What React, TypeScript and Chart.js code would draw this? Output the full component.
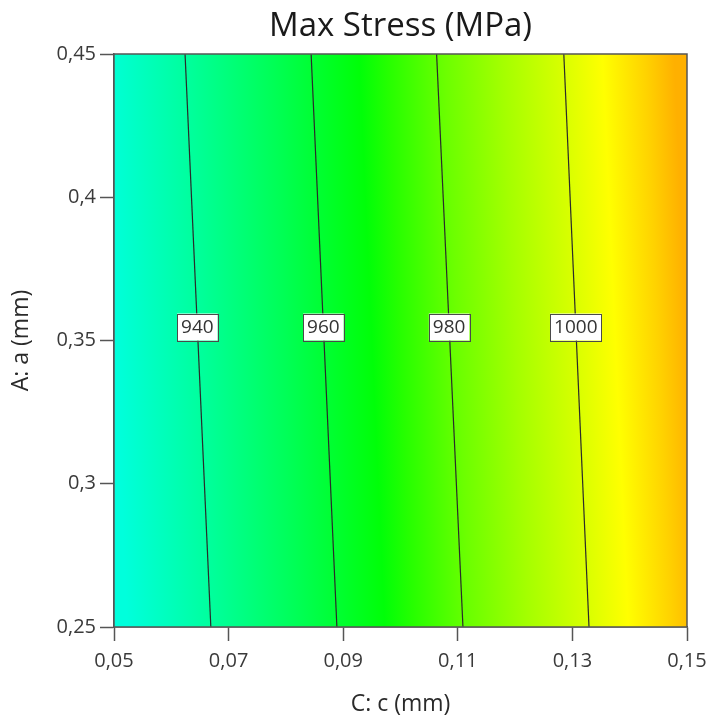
import { useEffect, useRef } from "react";
import { Chart, registerables } from "chart.js";

Chart.register(...registerables);

// Axis ticks
const xTicks = [0.05, 0.07, 0.09, 0.11, 0.13, 0.15];
const yTicks = [0.25, 0.3, 0.35, 0.4, 0.45];

// Contour levels of max stress (MPa) and where each crosses the top (a = 0.45) and bottom (a = 0.25) edges
const contourLevels = [940, 960, 980, 1000];
const contourCTop = [0.0624, 0.0844, 0.1063, 0.1285];
const contourCBottom = [0.0669, 0.0889, 0.1109, 0.1329];

// Colour ramp of the response surface, sampled along a = 0.35
const fieldC = [0.05, 0.065, 0.08, 0.095, 0.1, 0.11, 0.12, 0.13, 0.1375, 0.145, 0.15];
const fieldColors = [
  "#00ffdc", "#00ff9c", "#00ff55", "#00ff08", "#26ff00", "#6cff00",
  "#a4ff00", "#d6ff00", "#ffff00", "#ffd200", "#ffb000",
];

const TITLE = "Max Stress (MPa)";
const FONT = "'Open Sans', 'DejaVu Sans', sans-serif";
const A_MIN = 0.25;
const A_MAX = 0.45;
const FIELD_REF_A = 0.35;
const LABEL_A = 0.3547;

const fmt = (v: number) => String(v).replace(".", ",");

const surfacePlugin = {
  id: "surface",
  beforeDatasetsDraw(chart: any) {
    const { ctx, chartArea } = chart;
    const { left, right, top, bottom } = chartArea;
    const xs = chart.scales.x;
    const ys = chart.scales.y;
    // mean horizontal drift of the iso-lines per pixel of height
    let shift = 0;
    contourLevels.forEach((_, i) => {
      shift += xs.getPixelForValue(contourCBottom[i]) - xs.getPixelForValue(contourCTop[i]);
    });
    shift /= contourLevels.length;
    const h = ys.getPixelForValue(A_MIN) - ys.getPixelForValue(A_MAX);
    const t = shift / h;
    const ym = ys.getPixelForValue(FIELD_REF_A);
    const x0 = xs.getPixelForValue(fieldC[0]);
    const x1 = xs.getPixelForValue(fieldC[fieldC.length - 1]);
    const L = x1 - x0;
    const k = 1 / (1 + t * t);
    const g = ctx.createLinearGradient(x0, ym, x0 + L * k, ym - L * k * t);
    fieldC.forEach((c, i) => {
      const f = (xs.getPixelForValue(c) - x0) / L;
      g.addColorStop(Math.min(1, Math.max(0, f)), fieldColors[i]);
    });
    ctx.save();
    ctx.fillStyle = g;
    ctx.fillRect(left, top, right - left, bottom - top);
    ctx.restore();
  },
  afterDatasetsDraw(chart: any) {
    const { ctx, chartArea } = chart;
    const xs = chart.scales.x;
    const ys = chart.scales.y;
    const yTop = ys.getPixelForValue(A_MAX);
    const yBot = ys.getPixelForValue(A_MIN);
    const yl = ys.getPixelForValue(LABEL_A);
    ctx.save();
    ctx.font = `19px ${FONT}`;
    ctx.textAlign = "center";
    ctx.textBaseline = "middle";
    contourLevels.forEach((lvl, i) => {
      const xt = xs.getPixelForValue(contourCTop[i]);
      const xb = xs.getPixelForValue(contourCBottom[i]);
      const xl = xt + ((xb - xt) * (yl - yTop)) / (yBot - yTop);
      const txt = String(lvl);
      const w = ctx.measureText(txt).width + 8;
      const hh = 27;
      ctx.fillStyle = "#ffffff";
      ctx.fillRect(xl - w / 2, yl - hh / 2, w, hh);
      ctx.strokeStyle = "#4a4a4a";
      ctx.lineWidth = 1;
      ctx.strokeRect(Math.round(xl - w / 2) + 0.5, Math.round(yl - hh / 2) + 0.5, Math.round(w), hh);
      ctx.fillStyle = "#333333";
      ctx.fillText(txt, xl, yl + 1);
    });
    // frame around the plot
    ctx.strokeStyle = "#555555";
    ctx.lineWidth = 1.5;
    ctx.strokeRect(chartArea.left, chartArea.top, chartArea.right - chartArea.left, chartArea.bottom - chartArea.top);
    // chart title, centred over the plot
    ctx.font = `33px ${FONT}`;
    ctx.fillStyle = "#1a1a1a";
    ctx.textAlign = "center";
    ctx.textBaseline = "middle";
    ctx.fillText(TITLE, (chartArea.left + chartArea.right) / 2, 27);
    ctx.restore();
  },
};

export default function App() {
  const ref = useRef<HTMLCanvasElement | null>(null);

  useEffect(() => {
    if (!ref.current) return;
    const datasets = contourLevels.map((lvl, i) => ({
      label: String(lvl),
      data: [
        { x: contourCTop[i], y: A_MAX },
        { x: contourCBottom[i], y: A_MIN },
      ],
      showLine: true,
      borderColor: "#2a2a2a",
      borderWidth: 1.2,
      pointRadius: 0,
      fill: false,
    }));

    const chart = new Chart(ref.current, {
      type: "scatter",
      data: { datasets },
      plugins: [surfacePlugin],
      options: {
        animation: false,
        responsive: false,
        layout: { padding: { left: 0, right: 24, top: 54, bottom: 0 } },
        plugins: {
          legend: { display: false },
          tooltip: { enabled: false },
          title: { display: false },
        },
        scales: {
          x: {
            type: "linear",
            min: 0.05,
            max: 0.15,
            afterBuildTicks: (s: any) => {
              s.ticks = xTicks.map((v) => ({ value: v }));
            },
            afterFit: (s: any) => {
              s.height = 89;
              s.paddingLeft = 0;
              s.paddingRight = 0;
            },
            ticks: {
              callback: (v: any) => fmt(Number(v)),
              color: "#3a3a3a",
              font: { family: FONT, size: 20 },
              padding: 8,
              maxRotation: 0,
            },
            grid: {
              drawOnChartArea: false,
              drawTicks: true,
              tickLength: 14,
              tickColor: "#555555",
              tickWidth: 1.5,
            },
            border: { display: true, color: "#555555", width: 1.5 },
            title: {
              display: true,
              text: "C: c (mm)",
              color: "#2a2a2a",
              font: { family: FONT, size: 23, lineHeight: 1 },
              padding: { top: 0, bottom: 0 },
            },
          },
          y: {
            type: "linear",
            min: A_MIN,
            max: A_MAX,
            afterBuildTicks: (s: any) => {
              s.ticks = yTicks.map((v) => ({ value: v }));
            },
            afterFit: (s: any) => {
              s.width = 114;
              s.paddingTop = 0;
              s.paddingBottom = 0;
            },
            ticks: {
              callback: (v: any) => fmt(Number(v)),
              color: "#3a3a3a",
              font: { family: FONT, size: 20 },
              padding: 4,
            },
            grid: {
              drawOnChartArea: false,
              drawTicks: true,
              tickLength: 14,
              tickColor: "#555555",
              tickWidth: 1.5,
            },
            border: { display: true, color: "#555555", width: 1.5 },
            title: {
              display: true,
              text: "A: a (mm)",
              color: "#2a2a2a",
              font: { family: FONT, size: 23, lineHeight: 1.2 },
              padding: { top: 8, bottom: 0 },
            },
          },
        },
      },
    } as any);

    return () => chart.destroy();
  }, []);

  return (
    <div style={{ position: "absolute", left: 0, top: 0, width: 711, height: 716, background: "#ffffff" }}>
      <canvas ref={ref} width={711} height={716} style={{ display: "block" }} />
    </div>
  );
}
